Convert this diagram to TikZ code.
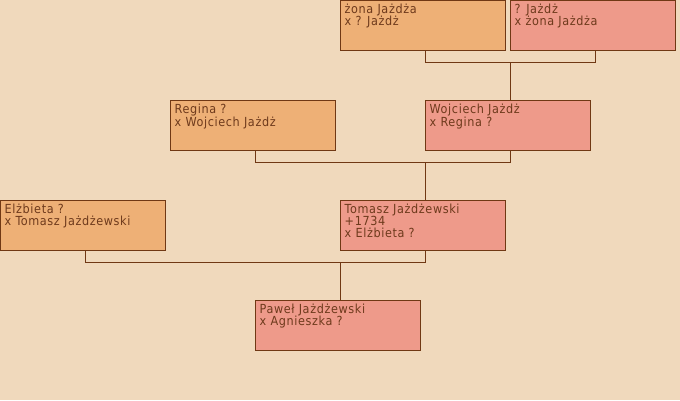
\documentclass[tikz,border=0pt]{standalone}
\usepackage{fontspec}
\setmainfont{DejaVu Sans Condensed}[LetterSpace=5]
\definecolor{bg}{RGB}{240,217,188}
\definecolor{fem}{RGB}{238,176,118}
\definecolor{mal}{RGB}{238,154,138}
\definecolor{edge}{RGB}{112,56,20}
\definecolor{txt}{RGB}{110,58,28}
\tikzset{
  x=1pt,y=-1pt,
  person/.style={draw=edge,line width=1pt,anchor=north west,minimum width=165pt,minimum height=50pt,inner sep=0pt,outer sep=0pt},
  femb/.style={person,fill=fem},
  malb/.style={person,fill=mal},
  info/.style={anchor=north west,align=left,inner sep=0pt,text=txt,font=\fontsize{12.5}{12}\selectfont},
  link/.style={draw=edge,line width=1pt}
}
\begin{document}
\begin{tikzpicture}
\fill[bg] (0,0) rectangle (680,400);
\useasboundingbox (0,0) rectangle (680,400);
\node[femb] (zona) at (340.5,0.5) {};
\node[malb] (jazdz) at (510.5,0.5) {};
\node[femb] (regina) at (170.5,100.5) {};
\node[malb] (wojciech) at (425.5,100.5) {};
\node[femb] (elzbieta) at (0.5,200.5) {};
\node[malb] (tomasz) at (340.5,200.5) {};
\node[malb] (pawel) at (255.5,300.5) {};
\node[info] (tzona) at ([shift={(4,3.5)}]zona.north west) {żona Jażdża\\x ? Jażdż};
\node[info] (tjazdz) at ([shift={(4,3.5)}]jazdz.north west) {? Jażdż\\x żona Jażdża};
\node[info] (tregina) at ([shift={(4,3.5)}]regina.north west) {Regina ?\\x Wojciech Jażdż};
\node[info] (twojciech) at ([shift={(4,3.5)}]wojciech.north west) {Wojciech Jażdż\\x Regina ?};
\node[info] (telzbieta) at ([shift={(4,3.5)}]elzbieta.north west) {Elżbieta ?\\x Tomasz Jażdżewski};
\node[info] (ttomasz) at ([shift={(4,3.5)}]tomasz.north west) {Tomasz Jażdżewski\\+1734\\x Elżbieta ?};
\node[info] (tpawel) at ([shift={(4,3.5)}]pawel.north west) {Paweł Jażdżewski\\x Agnieszka ?};
\coordinate (m1) at (510.5,62.5);
\coordinate (m2) at (425.5,162.5);
\coordinate (m3) at (340.5,262.5);
\path[link] ([xshift=2.5pt]zona.south) |- (m1) -| ([xshift=2.5pt]jazdz.south);
\path[link] (m1) -- (m1 |- wojciech.north);
\path[link] ([xshift=2.5pt]regina.south) |- (m2) -| ([xshift=2.5pt]wojciech.south);
\path[link] (m2) -- (m2 |- tomasz.north);
\path[link] ([xshift=2.5pt]elzbieta.south) |- (m3) -| ([xshift=2.5pt]tomasz.south);
\path[link] (m3) -- (m3 |- pawel.north);
\end{tikzpicture}
\end{document}
